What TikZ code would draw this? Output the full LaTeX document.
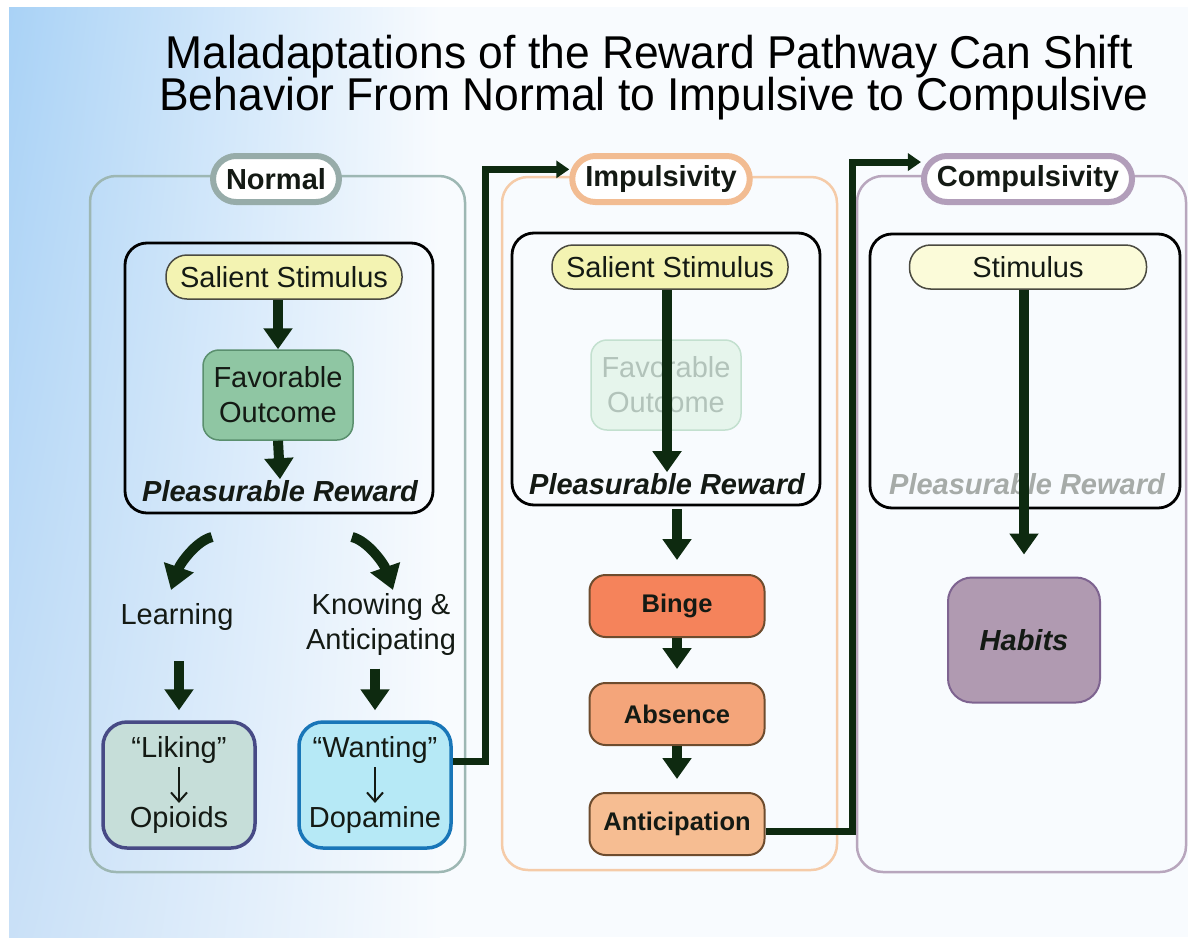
\documentclass[tikz,border=0pt]{standalone}
\usepackage{fontspec}
\setmainfont{Liberation Sans}
\newfontfamily\titlefont{Liberation Sans}[FakeStretch=0.965]
\usetikzlibrary{arrows.meta, positioning, calc, shadings}
\definecolor{Ink}{HTML}{141A14}
\definecolor{Arrow}{HTML}{0E2A10}
\definecolor{BgBlue}{HTML}{A9D2F6}
\definecolor{BgLow}{HTML}{C9E0F7}
\definecolor{BgTint}{HTML}{F8FBFE}
\definecolor{NormalLine}{HTML}{9DB7B3}
\definecolor{NormalBadge}{HTML}{97ACA9}
\definecolor{ImpLine}{HTML}{F5CBA8}
\definecolor{ImpBadge}{HTML}{F2BC92}
\definecolor{CompLine}{HTML}{B8A6BD}
\definecolor{CompBadge}{HTML}{B29EBA}
\definecolor{PillLine}{HTML}{4A4A40}
\definecolor{StimFill}{HTML}{F3F3B2}
\definecolor{StimPale}{HTML}{FBFBD9}
\definecolor{FavFill}{HTML}{8FC6A3}
\definecolor{FavLine}{HTML}{5A8F6E}
\definecolor{FavFaint}{HTML}{E6F5EC}
\definecolor{FavFaintLine}{HTML}{C3E0CF}
\definecolor{FavFaintText}{HTML}{B2C3BA}
\definecolor{LikeFill}{HTML}{C6DED9}
\definecolor{LikeLine}{HTML}{474A85}
\definecolor{WantFill}{HTML}{B6E9F6}
\definecolor{WantLine}{HTML}{1976B8}
\definecolor{StageLine}{HTML}{6E4C2E}
\definecolor{BingeFill}{HTML}{F5835B}
\definecolor{AbsFill}{HTML}{F4A57A}
\definecolor{AntFill}{HTML}{F6BD92}
\definecolor{HabitFill}{HTML}{B09AB1}
\definecolor{HabitLine}{HTML}{7E6390}
\definecolor{FadeText}{HTML}{A6ABA8}

\begin{document}
\begin{tikzpicture}[x=1pt, y=-1pt,
    panel/.style={draw, line width=2.5pt, rounded corners=26pt},
    badge/.style={draw, line width=6pt, fill=white, rounded corners=23pt,
        minimum height=46pt, inner xsep=13pt, text=Ink,
        font=\bfseries\bodysize},
    holder/.style={draw=black, line width=2.8pt, rounded corners=22pt},
    pill/.style={draw=PillLine, line width=1.5pt, rounded corners=21pt,
        minimum width=236pt, minimum height=44pt, text=Ink, font=\bodysize},
    outcome/.style={line width=1.5pt, rounded corners=16pt, minimum width=150pt,
        minimum height=90pt, align=center, font=\bodysize},
    reward/.style={inner sep=1pt, text=Ink, font=\bfseries\itshape\bodysize},
    flow/.style={draw=Arrow, line width=10pt, -{Triangle[width=28pt,length=21pt]}},
    link/.style={draw=Arrow, line width=7pt, -{Triangle[width=17pt,length=13pt]}},
    pointer/.style={draw=Ink, line width=2pt, -{Straight Barb[width=16pt,length=9pt]}},
    stage/.style={draw=StageLine, line width=2pt, rounded corners=16pt,
        minimum width=175pt, minimum height=62pt, text=Ink,
        font=\bfseries\fontsize{25.5}{30}\selectfont},
    chem/.style={line width=3.5pt, rounded corners=24pt,
        minimum width=152pt, minimum height=126pt},
    plain/.style={text=Ink, font=\bodysize},
]

    \def\bodysize{\fontsize{29}{35}\selectfont}

    % background
    \fill[white] (0,0) rectangle (1188,937);
    \fill[BgTint] (9,7) rectangle (1188,937);
    \shade[upper left=BgBlue, lower left=BgLow, upper right=BgTint, lower right=BgTint]
        (9,7) rectangle (440,937);
    \useasboundingbox (0,0) rectangle (1188,937);

    % title
    \node[anchor=base, text=black, font=\titlefont\fontsize{46}{41}\selectfont] (title1) at (649,68)
        {Maladaptations of the Reward Pathway Can Shift};
    \node[anchor=base, text=black, font=\titlefont\fontsize{46}{41}\selectfont] (title2) at (654,110)
        {Behavior From Normal to Impulsive to Compulsive};

    % Normal
    \draw[panel, NormalLine] (90,176) rectangle (465,872);
    \node[badge, draw=NormalBadge] (n-badge) at (276,179) {Normal};
    \node[holder, minimum width=308pt, minimum height=270pt] (n-box) at (279,378) {};
    \node[pill, fill=StimFill] (n-stim) at (284,277) {Salient Stimulus};
    \node[outcome, draw=FavLine, fill=FavFill, text=Ink] (n-fav) at (278,395) {Favorable\\Outcome};
    \node[reward] (n-rew) at (280,491) {Pleasurable Reward};
    \draw[flow] (n-fav.north |- n-stim.south) -- (n-fav.north);
    \draw[flow] (n-fav.south) -- (n-rew.north);

    \coordinate (n-left1) at (212,537);
    \coordinate (n-left2) at (171,590);
    \coordinate (n-right1) at (352,537);
    \coordinate (n-right2) at (393,590);
    \draw[flow, -{Triangle[width=30pt,length=24pt]}]
        (n-left1) .. controls (196,541) and (180,564) .. (n-left2);
    \draw[flow, -{Triangle[width=30pt,length=24pt]}]
        (n-right1) .. controls (368,541) and (384,564) .. (n-right2);

    \node[plain] (n-learn) at (177,617) {Learning};
    \node[plain, align=center] (n-know) at (381,624) {Knowing \&\\Anticipating};

    \node[chem, draw=LikeLine, fill=LikeFill] (n-like) at (179,785) {};
    \node[chem, draw=WantLine, fill=WantFill] (n-want) at (375,785) {};
    \node[plain] (n-like-t) at (179,750) {“Liking”};
    \node[plain] (n-like-b) at (179,820) {Opioids};
    \node[plain] (n-want-t) at (375,750) {“Wanting”};
    \node[plain] (n-want-b) at (375,820) {Dopamine};
    \draw[pointer] (n-like-t) -- (n-like-b);
    \draw[pointer] (n-want-t) -- (n-want-b);
    \draw[flow, shorten <=27pt, shorten >=10pt] (n-like.north |- n-learn.south) -- (n-like.north);
    \draw[flow, shorten <=10pt, shorten >=10pt] (n-want.north |- n-know.south) -- (n-want.north);

    % Impulsivity
    \draw[panel, ImpLine] (502,177) rectangle (837,870);
    \node[badge, draw=ImpBadge] (i-badge) at (661,179) {Impulsivity};
    \node[holder, minimum width=308pt, minimum height=272pt] (i-box) at (666,369) {};
    \node[pill, fill=StimFill] (i-stim) at (670,267) {Salient Stimulus};
    \node[outcome, draw=FavFaintLine, fill=FavFaint, text=FavFaintText] (i-fav) at (666,385) {Favorable\\Outcome};
    \node[reward] (i-rew) at (667,484) {Pleasurable Reward};
    \draw[flow] (i-rew.north |- i-stim.south) -- (i-rew.north);

    \node[stage, fill=BingeFill] (i-binge) at (677,606) {Binge};
    \node[stage, fill=AbsFill] (i-abs) at (677,714) {Absence};
    \node[stage, fill=AntFill] (i-ant) at (677,824) {Anticipation};
    \draw[flow, shorten <=3pt, shorten >=14pt] (i-binge.north |- i-box.south) -- (i-binge.north);
    \draw[flow, shorten >=13pt] (i-binge) -- (i-abs);
    \draw[flow, shorten >=13pt] (i-abs) -- (i-ant);

    % Compulsivity
    \draw[panel, CompLine] (857,176) rectangle (1186,872);
    \node[badge, draw=CompBadge] (c-badge) at (1028,179) {Compulsivity};
    \node[holder, minimum width=310pt, minimum height=274pt] (c-box) at (1025,371) {};
    \node[pill, fill=StimPale, minimum width=237pt] (c-stim) at (1028,267) {Stimulus};
    \node[reward, text=FadeText] (c-rew) at (1027,484) {Pleasurable Reward};
    \node[draw=HabitLine, fill=HabitFill, line width=2pt, rounded corners=24pt,
        minimum width=152pt, minimum height=125pt, text=Ink,
        font=\bfseries\itshape\bodysize] (c-habit) at (1024,640) {Habits};
    \draw[flow, shorten >=22pt] (c-habit.north |- c-stim.south) -- (c-habit.north);

    % stage links
    \draw[link] (n-want.17) -- ++(33,0) |- (i-badge.174);
    \draw[link] (i-ant.-5) -- ++(87,0) |- (c-badge.171);

\end{tikzpicture}
\end{document}
